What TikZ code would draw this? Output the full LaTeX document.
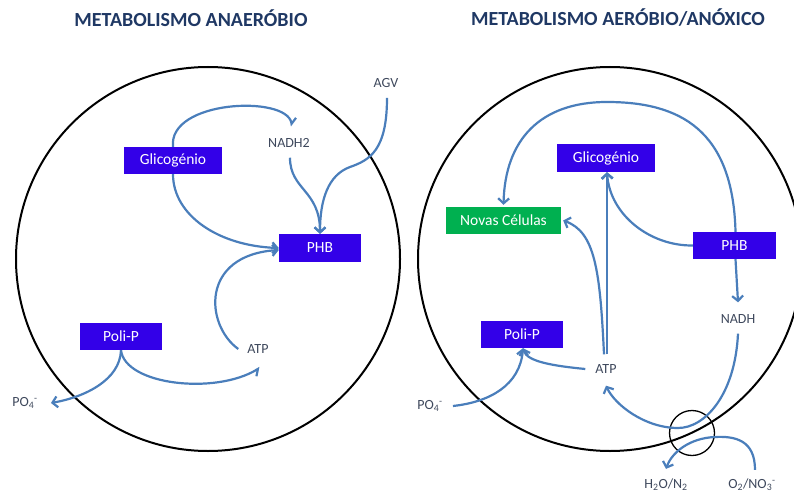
\documentclass[tikz,border=0pt]{standalone}
\usepackage{fontspec}
\setmainfont{Carlito}
\usetikzlibrary{arrows.meta}

\definecolor{flowblue}{RGB}{74,126,187}
\definecolor{boxblue}{RGB}{51,0,232}
\definecolor{boxgreen}{RGB}{0,176,80}
\definecolor{labelgray}{RGB}{62,72,92}
\definecolor{titlenavy}{RGB}{31,56,100}

\tikzset{
  title/.style={text=titlenavy, inner sep=0, font=\bfseries\fontsize{20}{24}\selectfont},
  cellwall/.style={draw=black, line width=2pt},
  pool/.style={fill=boxblue, text=white, inner sep=0, minimum height=27pt,
               font=\fontsize{15.5}{18}\selectfont},
  newcells/.style={pool, fill=boxgreen},
  lbl/.style={text=labelgray, inner sep=0, font=\fontsize{14}{16}\selectfont},
  flow/.style={draw=flowblue, line width=2.2pt,
               -{Straight Barb[length=5pt,width=11pt,line width=2.2pt]}},
  halfflow/.style={draw=flowblue, line width=2.2pt,
               -{Straight Barb[harpoon,length=5pt,width=11pt,line width=2.2pt]}},
  halfflowswap/.style={draw=flowblue, line width=2.2pt,
               -{Straight Barb[harpoon,swap,length=5pt,width=11pt,line width=2.2pt]}},
  valvering/.style={circle, draw=black, line width=1.3pt, minimum size=45pt, inner sep=0},
}

\begin{document}
\begin{tikzpicture}[x=1pt,y=-1pt]
\useasboundingbox (0,0) rectangle (794,494);

% headings
\node[title] (titleL) at (191,18) {METABOLISMO ANAERÓBIO};
\node[title] (titleR) at (618,18) {METABOLISMO AERÓBIO/ANÓXICO};

% cell walls
\draw[cellwall] (208,259) circle[radius=192pt];
\draw[cellwall] (610,259) circle[radius=192pt];

% ---------- anaerobic cell ----------
\node[pool, minimum width=98pt] (glicoL) at (173,160.5) {Glicogénio};
\node[pool, minimum width=82pt, minimum height=28pt] (phbL) at (320,248) {PHB};
\node[pool, minimum width=82pt] (poliL) at (121,336.5) {Poli-P};
\node[lbl] (nadh2) at (289,143) {NADH2};
\node[lbl] (agv) at (386,83) {AGV};
\node[lbl] (atpL) at (258,349) {ATP};
\node[lbl] (po4L) at (25,403) {PO\textsubscript{4}\textsuperscript{-}};

\draw[halfflow] (glicoL.north) .. controls (168,100) and (286,95) .. ([shift={(3,-12)}]nadh2.north);
\draw[flow] (glicoL.south) .. controls (173,215) and (218,246) .. (phbL.west);
\draw[flow] ([shift={(1,10)}]nadh2.south) .. controls (290,190) and (320,190) .. (phbL.north);
\draw[flow] ([shift={(1,10)}]agv.south) .. controls (387,150) and (370,160) .. (350,167)
            .. controls (328,175) and (320,200) .. (phbL.north);
\draw[flow] ([shift={(-9,0)}]atpL.west) .. controls (205,325) and (200,255) .. ([shift={(0,2)}]phbL.west);
\draw[halfflowswap] (poliL.south) .. controls (125,385) and (215,395) .. ([shift={(2,14)}]atpL.south);
\draw[flow] (poliL.south) .. controls (120,380) and (85,397) .. ([shift={(13,0)}]po4L.east);

% ---------- aerobic / anoxic cell ----------
\node[pool, minimum width=98pt, minimum height=28pt] (glicoR) at (606,158) {Glicogénio};
\node[newcells, minimum width=115pt] (novas) at (503.5,220.5) {Novas Células};
\node[pool, minimum width=83pt] (phbR) at (734.5,245.5) {PHB};
\node[pool, minimum width=82pt] (poliR) at (522,334.5) {Poli-P};
\node[lbl] (nadhR) at (738,319) {NADH};
\node[lbl] (atpR) at (606,369) {ATP};
\node[lbl] (po4R) at (430,406) {PO\textsubscript{4}\textsuperscript{-}};
\node[lbl] (h2o) at (666,485) {H\textsubscript{2}O/N\textsubscript{2}};
\node[lbl] (o2) at (752,485) {O\textsubscript{2}/NO\textsubscript{3}\textsuperscript{-}};
\node[valvering] (valve) at (692,433) {};

\draw[flow] ([shift={(1,0)}]phbR.north) .. controls (733,130) and (680,102) .. (607,102)
            .. controls (540,102) and (505,140) .. ([shift={(0,-2)}]novas.north);
\draw[flow] (phbR.west) .. controls (650,246) and (610,215) .. ([shift={(1,0)}]glicoR.south);
\draw[flow] ([shift={(1,-10)}]atpR.north) -- ([shift={(1,0)}]glicoR.south);
\draw[flow] ([shift={(-2,-10)}]atpR.north) .. controls (600,270) and (595,232) .. ([shift={(2,0)}]novas.east);
\draw[flow] ([shift={(1,0)}]phbR.south) -- ([shift={(0,-12)}]nadhR.north);
\draw[flow] ([shift={(0,10)}]nadhR.south) .. controls (735,395) and (705,428) .. (678,428)
            .. controls (645,428) and (615,405) .. ([shift={(0,12)}]atpR.south);
\draw[flow] ([shift={(3,-9)}]o2.north) .. controls (755,440) and (735,436) .. (715,437)
            .. controls (690,438) and (672,452) .. ([shift={(0,-10)}]h2o.north);
\draw[flow] ([shift={(10,0)}]po4R.east) .. controls (490,402) and (520,385) .. ([shift={(1,0)}]poliR.south);
\draw[flow] ([shift={(-10,0)}]atpR.west) .. controls (555,366) and (527,362) .. ([shift={(1,0)}]poliR.south);

\end{tikzpicture}
\end{document}
